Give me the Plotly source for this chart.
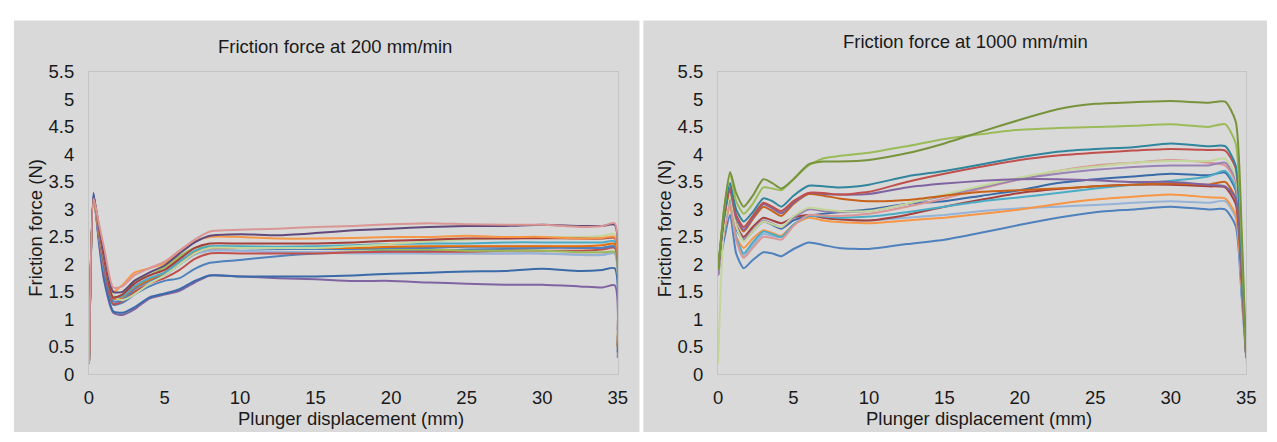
import plotly.graph_objects as go

# ---------------- data ----------------
X_200 = [0, 0.3, 0.65, 1.0, 1.6, 2.2, 3, 4, 5, 6, 7, 8, 10, 12.5, 15, 17.5, 20, 22.5, 25, 27.5, 30, 32.5, 34, 34.8, 35]

S200_pink = [0.2, 3.2, 2.75, 2.3, 1.58, 1.6, 1.8, 1.93, 2.05, 2.25, 2.45, 2.6, 2.63, 2.65, 2.68, 2.7, 2.73, 2.75, 2.73, 2.72, 2.72, 2.68, 2.7, 2.75, 0.8]
S200_darkpurple = [0.2, 3.25, 2.7, 2.2, 1.5, 1.5, 1.7, 1.85, 1.98, 2.2, 2.4, 2.52, 2.55, 2.53, 2.57, 2.62, 2.65, 2.68, 2.7, 2.7, 2.72, 2.7, 2.7, 2.72, 0.8]
S200_orange = [0.2, 3.2, 2.7, 2.2, 1.5, 1.62, 1.85, 1.93, 2.02, 2.25, 2.42, 2.5, 2.5, 2.47, 2.47, 2.48, 2.5, 2.5, 2.52, 2.5, 2.5, 2.47, 2.48, 2.5, 0.6]
S200_darkred = [0.2, 3.2, 2.65, 2.1, 1.4, 1.45, 1.65, 1.8, 1.9, 2.1, 2.3, 2.38, 2.38, 2.38, 2.38, 2.4, 2.43, 2.45, 2.47, 2.47, 2.48, 2.47, 2.47, 2.48, 0.6]
S200_palegreen = [0.2, 3.15, 2.65, 2.1, 1.42, 1.35, 1.45, 1.65, 1.8, 2.0, 2.2, 2.3, 2.3, 2.3, 2.3, 2.33, 2.37, 2.42, 2.45, 2.48, 2.5, 2.5, 2.52, 2.55, 0.6]
S200_cyan = [0.2, 3.2, 2.65, 2.1, 1.42, 1.42, 1.6, 1.75, 1.85, 2.05, 2.25, 2.33, 2.33, 2.32, 2.33, 2.35, 2.37, 2.38, 2.38, 2.4, 2.4, 2.4, 2.4, 2.42, 0.6]
S200_darkorange = [0.2, 3.2, 2.6, 2.05, 1.38, 1.4, 1.58, 1.72, 1.85, 2.05, 2.22, 2.3, 2.3, 2.3, 2.3, 2.3, 2.32, 2.33, 2.33, 2.33, 2.33, 2.33, 2.35, 2.37, 0.5]
S200_blue = [0.2, 3.25, 2.6, 2.0, 1.33, 1.35, 1.55, 1.7, 1.82, 2.0, 2.2, 2.3, 2.3, 2.28, 2.28, 2.28, 2.3, 2.3, 2.32, 2.32, 2.32, 2.3, 2.3, 2.32, 0.5]
S200_green = [0.2, 3.2, 2.6, 2.05, 1.38, 1.45, 1.7, 1.8, 1.95, 2.15, 2.3, 2.33, 2.32, 2.3, 2.28, 2.27, 2.27, 2.27, 2.25, 2.25, 2.25, 2.22, 2.22, 2.22, 0.5]
S200_red = [0.2, 3.2, 2.55, 1.95, 1.28, 1.33, 1.5, 1.65, 1.75, 1.9, 2.1, 2.2, 2.2, 2.2, 2.2, 2.22, 2.23, 2.23, 2.23, 2.25, 2.25, 2.25, 2.27, 2.3, 0.5]
S200_lightblue = [0.2, 3.2, 2.55, 1.95, 1.38, 1.4, 1.55, 1.7, 1.8, 2.0, 2.18, 2.25, 2.25, 2.23, 2.22, 2.2, 2.2, 2.2, 2.2, 2.2, 2.2, 2.17, 2.17, 2.2, 0.5]
S200_lightpurple = [0.2, 3.2, 2.55, 1.95, 1.38, 1.4, 1.6, 1.75, 1.85, 2.05, 2.2, 2.27, 2.25, 2.22, 2.22, 2.22, 2.22, 2.2, 2.2, 2.2, 2.2, 2.18, 2.18, 2.2, 0.5]
S200_bluelower = [0.2, 3.2, 2.5, 1.85, 1.27, 1.3, 1.45, 1.6, 1.7, 1.75, 1.92, 2.03, 2.08, 2.15, 2.2, 2.22, 2.25, 2.25, 2.27, 2.28, 2.3, 2.3, 2.3, 2.33, 0.5]
S200_darkblue = [0.2, 3.3, 2.45, 1.75, 1.15, 1.12, 1.22, 1.4, 1.47, 1.55, 1.7, 1.8, 1.78, 1.78, 1.78, 1.8, 1.83, 1.85, 1.87, 1.88, 1.92, 1.88, 1.9, 1.93, 0.4]
S200_purple = [0.2, 3.3, 2.4, 1.7, 1.12, 1.08, 1.18, 1.38, 1.45, 1.52, 1.67, 1.8, 1.78, 1.75, 1.73, 1.7, 1.7, 1.67, 1.65, 1.63, 1.63, 1.6, 1.58, 1.62, 0.3]

X_1000 = [0, 0.4, 0.8, 1.2, 1.7, 2.3, 3.0, 3.6, 4.2, 5.0, 6.0, 7, 8, 10, 12.5, 15, 17.5, 20, 22.5, 25, 27.5, 30, 32.5, 33.6, 34.3, 34.7, 35]

S1000_darkgreen = [1.9, 3.0, 3.68, 3.3, 3.05, 3.25, 3.55, 3.48, 3.38, 3.55, 3.82, 3.87, 3.87, 3.9, 4.02, 4.2, 4.42, 4.63, 4.82, 4.92, 4.95, 4.97, 4.94, 4.96, 4.6, 2.6, 0.3]
S1000_lightgreen = [1.9, 3.0, 3.65, 3.15, 2.92, 3.1, 3.4, 3.38, 3.35, 3.55, 3.8, 3.93, 3.97, 4.03, 4.15, 4.28, 4.37, 4.45, 4.48, 4.5, 4.52, 4.55, 4.5, 4.55, 4.2, 2.4, 0.3]
S1000_teal = [1.9, 2.9, 3.48, 3.0, 2.78, 2.95, 3.2, 3.15, 3.05, 3.25, 3.43, 3.42, 3.4, 3.45, 3.6, 3.7, 3.82, 3.95, 4.05, 4.1, 4.13, 4.2, 4.15, 4.15, 3.8, 2.1, 0.3]
S1000_red = [1.9, 2.85, 3.4, 2.9, 2.68, 2.88, 3.12, 3.05, 2.97, 3.15, 3.3, 3.3, 3.27, 3.32, 3.5, 3.65, 3.78, 3.9, 3.98, 4.03, 4.07, 4.1, 4.08, 4.07, 3.75, 2.0, 0.3]
S1000_purple = [1.9, 2.85, 3.38, 2.85, 2.63, 2.85, 3.1, 3.02, 2.93, 3.12, 3.3, 3.28, 3.27, 3.28, 3.4, 3.47, 3.52, 3.55, 3.55, 3.53, 3.5, 3.5, 3.45, 3.42, 3.2, 1.8, 0.3]
S1000_darkorange = [1.9, 2.85, 3.35, 2.85, 2.6, 2.82, 3.05, 2.97, 2.88, 3.1, 3.28, 3.25, 3.2, 3.15, 3.17, 3.25, 3.32, 3.35, 3.38, 3.42, 3.45, 3.47, 3.45, 3.5, 3.2, 1.8, 0.3]
S1000_palegreen = [0.2, 2.7, 3.25, 2.7, 2.42, 2.6, 2.78, 2.73, 2.68, 2.88, 3.03, 3.0, 2.97, 2.97, 3.1, 3.27, 3.43, 3.58, 3.7, 3.78, 3.85, 3.88, 3.88, 3.92, 3.6, 2.0, 0.2]
S1000_lilac = [1.8, 2.7, 3.25, 2.7, 2.45, 2.62, 2.8, 2.74, 2.67, 2.85, 3.0, 2.97, 2.95, 2.97, 3.1, 3.25, 3.4, 3.55, 3.65, 3.72, 3.77, 3.8, 3.8, 3.85, 3.55, 1.9, 0.3]
S1000_pink = [1.8, 2.6, 3.1, 2.45, 2.12, 2.3, 2.5, 2.48, 2.45, 2.7, 2.9, 2.89, 2.88, 2.92, 3.05, 3.2, 3.38, 3.55, 3.7, 3.8, 3.85, 3.9, 3.85, 3.8, 3.5, 1.9, 0.3]
S1000_cyan = [1.8, 2.65, 3.15, 2.5, 2.2, 2.4, 2.6, 2.55, 2.5, 2.72, 2.88, 2.87, 2.85, 2.87, 2.95, 3.05, 3.15, 3.22, 3.3, 3.38, 3.45, 3.52, 3.6, 3.7, 3.4, 1.9, 0.3]
S1000_darkblue = [1.8, 2.7, 3.2, 2.65, 2.45, 2.6, 2.78, 2.72, 2.65, 2.8, 2.88, 2.92, 2.95, 3.0, 3.1, 3.15, 3.25, 3.35, 3.48, 3.55, 3.6, 3.65, 3.62, 3.67, 3.35, 1.8, 0.3]
S1000_darkred = [1.9, 2.75, 3.25, 2.72, 2.5, 2.68, 2.85, 2.8, 2.75, 2.85, 2.9, 2.85, 2.82, 2.8, 2.9, 3.05, 3.18, 3.3, 3.37, 3.42, 3.45, 3.45, 3.42, 3.4, 3.1, 1.7, 0.3]
S1000_orange = [1.8, 2.6, 3.05, 2.5, 2.3, 2.47, 2.62, 2.57, 2.52, 2.72, 2.85, 2.8, 2.77, 2.75, 2.8, 2.85, 2.92, 3.0, 3.1, 3.18, 3.23, 3.27, 3.22, 3.2, 2.9, 1.6, 0.3]
S1000_lightblue = [1.8, 2.6, 3.05, 2.45, 2.15, 2.35, 2.55, 2.52, 2.5, 2.72, 2.9, 2.85, 2.82, 2.8, 2.85, 2.9, 2.97, 3.02, 3.05, 3.08, 3.12, 3.15, 3.12, 3.15, 2.85, 1.5, 0.3]
S1000_blue = [1.8, 2.45, 2.9, 2.2, 1.93, 2.08, 2.22, 2.2, 2.15, 2.28, 2.4, 2.35, 2.3, 2.28, 2.37, 2.45, 2.58, 2.72, 2.85, 2.95, 3.0, 3.05, 3.0, 3.0, 2.7, 1.4, 0.3]

Y_TICKS = [0, 0.5, 1, 1.5, 2, 2.5, 3, 3.5, 4, 4.5, 5, 5.5]
Y_TICK_LABELS = ["0", "0.5", "1", "1.5", "2", "2.5", "3", "3.5", "4", "4.5", "5", "5.5"]
X_TICKS = [0, 5, 10, 15, 20, 25, 30, 35]
X_TICK_LABELS = ["0", "5", "10", "15", "20", "25", "30", "35"]

TITLE_200 = "Friction force at 200 mm/min"
TITLE_1000 = "Friction force at 1000 mm/min"
X_TITLE = "Plunger displacement (mm)"
Y_TITLE = "Friction force (N)"

# ---------------- styles ----------------
SERIES_200 = [
    (S200_purple, "#8064A2"),
    (S200_darkblue, "#3A6AA8"),
    (S200_bluelower, "#4F81BD"),
    (S200_lightpurple, "#B3A2C7"),
    (S200_lightblue, "#95B3D7"),
    (S200_red, "#C0504D"),
    (S200_green, "#9BBB59"),
    (S200_blue, "#4F81BD"),
    (S200_darkorange, "#E46C0A"),
    (S200_cyan, "#4BACC6"),
    (S200_palegreen, "#C3D69B"),
    (S200_darkred, "#A5403D"),
    (S200_orange, "#F79646"),
    (S200_darkpurple, "#604A7B"),
    (S200_pink, "#D99694"),
]
SERIES_1000 = [
    (S1000_blue, "#4F81BD"),
    (S1000_lightblue, "#95B3D7"),
    (S1000_orange, "#F79646"),
    (S1000_darkred, "#A5403D"),
    (S1000_darkblue, "#3A6AA8"),
    (S1000_cyan, "#4BACC6"),
    (S1000_pink, "#D99694"),
    (S1000_lilac, "#9983B5"),
    (S1000_palegreen, "#C3D69B"),
    (S1000_darkorange, "#C8621B"),
    (S1000_purple, "#8064A2"),
    (S1000_red, "#C0504D"),
    (S1000_teal, "#31859C"),
    (S1000_lightgreen, "#9BBB59"),
    (S1000_darkgreen, "#77933C"),
]

W, H = 1277, 442
FONT = "Liberation Sans, Arial, sans-serif"
TXT = "#1a1a1a"
PANEL = "#d9d9d9"
FS = 18.5

def px(x):
    return x / W

def py(y):
    return 1 - y / H

fig = go.Figure()

for ys, col in SERIES_200:
    fig.add_trace(go.Scatter(x=X_200, y=ys, mode="lines", xaxis="x", yaxis="y",
                             line=dict(color=col, width=2, shape="spline", smoothing=0.6),
                             showlegend=False, hoverinfo="skip"))
for ys, col in SERIES_1000:
    fig.add_trace(go.Scatter(x=X_1000, y=ys, mode="lines", xaxis="x2", yaxis="y2",
                             line=dict(color=col, width=2, shape="spline", smoothing=0.6),
                             showlegend=False, hoverinfo="skip"))

ydom = [py(381.5), py(64)]

def xaxis(dom, anchor):
    return dict(domain=dom, range=[0, 35], tickmode="array", tickvals=X_TICKS, ticktext=X_TICK_LABELS,
                showgrid=False, zeroline=False, showline=True, linecolor="#c4c4c4", linewidth=1, mirror=True,
                ticks="", ticklabelstandoff=6, tickfont=dict(family=FONT, size=FS, color=TXT),
                anchor=anchor, fixedrange=True)

def yaxis(anchor):
    return dict(domain=ydom, range=[0, 5.5], tickmode="array", tickvals=Y_TICKS, ticktext=Y_TICK_LABELS,
                showgrid=True, gridcolor="#d9d9d9", gridwidth=1, zeroline=False, showline=True,
                linecolor="#c4c4c4", linewidth=1, mirror=True, ticks="", ticklabelstandoff=10,
                tickfont=dict(family=FONT, size=FS, color=TXT), anchor=anchor, fixedrange=True)

shapes = [
    dict(type="rect", xref="paper", yref="paper", x0=px(9), x1=px(642), y0=0, y1=py(10),
         fillcolor=PANEL, line=dict(width=0), layer="below"),
    dict(type="rect", xref="paper", yref="paper", x0=px(646), x1=1, y0=0, y1=py(10),
         fillcolor=PANEL, line=dict(width=0), layer="below"),
]

def ann(text, x, y, angle=0):
    return dict(text=text, x=px(x), y=py(y), xref="paper", yref="paper", showarrow=False,
                xanchor="center", yanchor="middle", textangle=angle,
                font=dict(family=FONT, size=FS, color=TXT))

annotations = [
    ann(TITLE_200, 334, 37),
    ann(TITLE_1000, 972, 32),
    ann(X_TITLE, 350, 428),
    ann(X_TITLE, 986, 428),
    ann(Y_TITLE, 31, 228, -90),
    ann(Y_TITLE, 667, 228, -90),
]

fig.update_layout(
    width=W, height=H, margin=dict(l=0, r=0, t=0, b=0),
    paper_bgcolor="white", plot_bgcolor="white",
    xaxis=xaxis([px(85), px(620)], "y"), yaxis=yaxis("x"),
    xaxis2=xaxis([px(721.5), px(1256)], "y2"), yaxis2=yaxis("x2"),
    shapes=shapes, annotations=annotations, showlegend=False,
)

fig.write_html("out.html", config={"displayModeBar": False, "staticPlot": True},
               post_script="document.body.style.margin='0';")
